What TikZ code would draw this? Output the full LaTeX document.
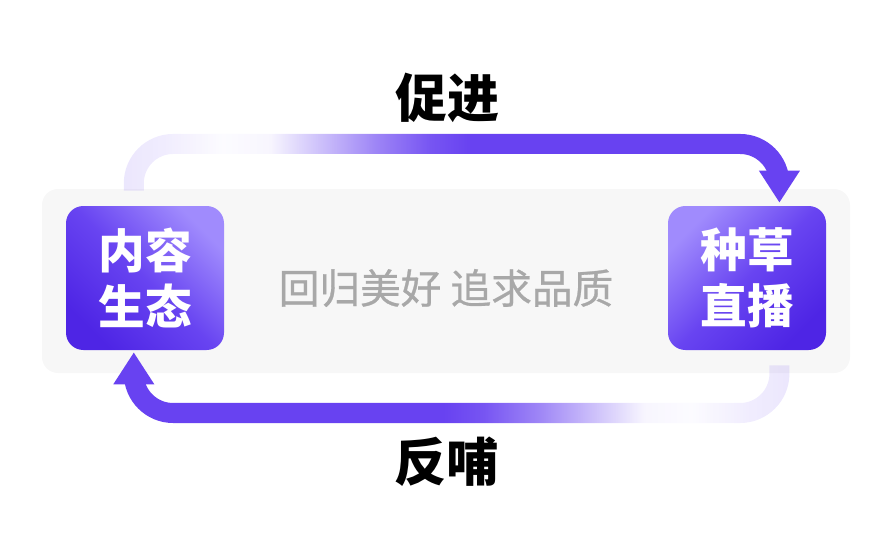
\documentclass[tikz,border=0pt]{standalone}
\usepackage{fontspec}
\newfontfamily\cjk{Noto Sans CJK SC}
\newfontfamily\cjkmed{Noto Sans CJK SC}[FakeBold=0.7]
\usetikzlibrary{arrows.meta,fadings,calc}
\definecolor{arrowpurple}{HTML}{6842F1}
\definecolor{boxlight}{HTML}{A08BFD}
\definecolor{boxmid}{HTML}{6844F1}
\definecolor{boxdark}{HTML}{4E25E5}
\definecolor{panelgrey}{HTML}{F7F7F7}
\definecolor{mottogrey}{HTML}{A8A8A8}
%===masks of the loop arrows===
\definecolor{fop02}{gray}{0.02}
\definecolor{fop05}{gray}{0.05}
\definecolor{fop10}{gray}{0.10}
\definecolor{fop13}{gray}{0.13}
\definecolor{fop35}{gray}{0.35}
\definecolor{fop65}{gray}{0.65}
\definecolor{fop90}{gray}{0.90}
\pgfdeclarehorizontalshading{cujinmask}{100bp}{color(0bp)=(fop13); color(25bp)=(fop13); color(28bp)=(fop10); color(32.5bp)=(fop02); color(36bp)=(fop05); color(40bp)=(fop35); color(44bp)=(fop65); color(48bp)=(fop90); color(51bp)=(white); color(100bp)=(white)}
\pgfdeclarehorizontalshading{fanbumask}{100bp}{color(0bp)=(white); color(49bp)=(white); color(52bp)=(fop90); color(56bp)=(fop65); color(60bp)=(fop35); color(64bp)=(fop05); color(67.5bp)=(fop02); color(72bp)=(fop10); color(75bp)=(fop13); color(100bp)=(fop13)}
\pgfdeclarefading{cujinfade}{\pgfuseshading{cujinmask}}
\pgfdeclarefading{fanbufade}{\pgfuseshading{fanbumask}}

\begin{document}
\begin{tikzpicture}[x=0.75pt,y=-0.75pt,>={Triangle[width=29pt,length=24pt]}]
%===styles===
\tikzset{card/.style ={shade, rounded corners=13pt, minimum width=118.5pt, minimum height=108pt, inner sep=0pt, align=center, text=white, font=\cjk\bfseries\fontsize{35}{42}\selectfont},
 loop/.style ={draw=arrowpurple, line width=15pt, rounded corners=29.5pt},
 title/.style ={font=\cjk\bfseries\fontsize{39}{39}\selectfont},
 motto/.style ={text=mottogrey, font=\cjkmed\fontsize{30.5}{30.5}\selectfont}}
\useasboundingbox (0,0) rectangle (885,557);
%===panel===
\fill[panelgrey, rounded corners=12pt] (42,189) rectangle (850,373);
%===cards===
\node[card, top color=boxlight, bottom color=boxdark, middle color=boxmid, shading angle=-45] (neirong) at (145,278) {内容\\生态};
\node[card, top color=boxlight, bottom color=boxdark, middle color=boxmid, shading angle=45] (zhongcao) at (747,278) {种草\\直播};
\node[motto] (motto) at (446,288) {回归美好 追求品质};
%===loop===
\coordinate (cujin in) at ($(neirong.north)+(-11,-15)$);
\coordinate (cujin out) at ($(zhongcao.north)+(33,-3)$);
\coordinate (fanbu in) at ($(zhongcao.south)+(33,15)$);
\coordinate (fanbu out) at ($(neirong.south)+(-11,2)$);
\coordinate (top lane) at (0,144);
\coordinate (bottom lane) at (0,413);
\draw[loop, path fading=cujinfade, ->] (cujin in) |- (top lane -| cujin out) -- (cujin out);
\draw[loop, path fading=fanbufade, ->] (fanbu in) |- (bottom lane -| fanbu out) -- (fanbu out);
%===labels===
\node[title] (cujin) at (447,98) {促进};
\node[title] (fanbu) at (446,462) {反哺};
\end{tikzpicture}
\end{document}
